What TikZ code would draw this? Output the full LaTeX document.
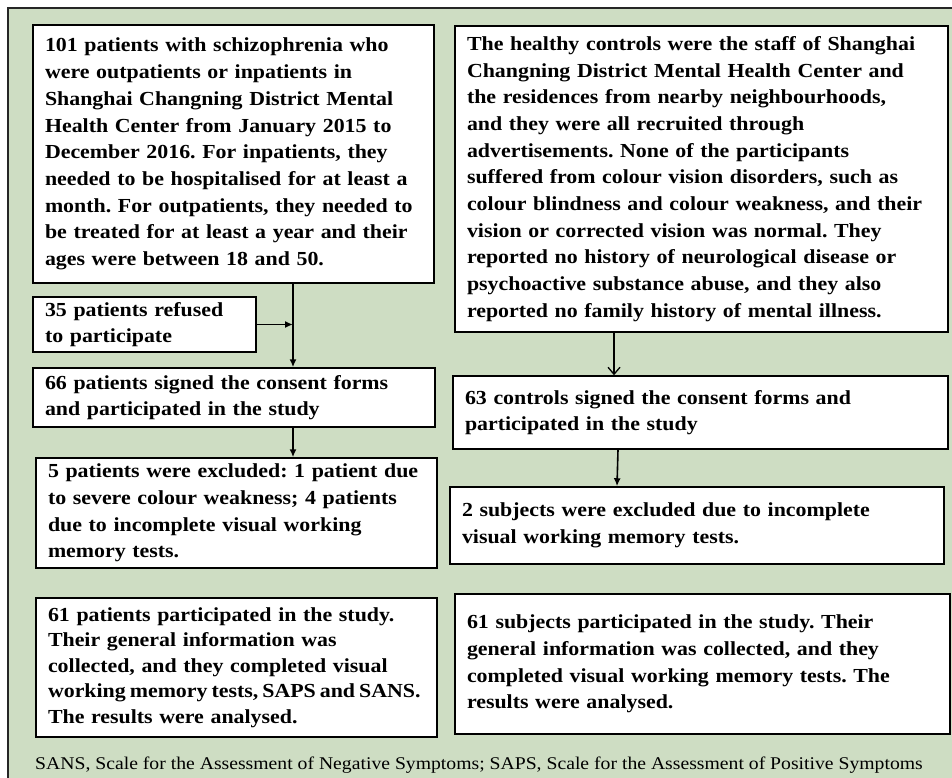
\documentclass[tikz,border=0pt]{standalone}
\usepackage{fontspec}
\setmainfont{Liberation Serif}[FakeStretch=1.1]
\usetikzlibrary{arrows.meta}
\definecolor{sage}{RGB}{206,221,195}
\frenchspacing
\tikzset{
  flowbox/.style={draw=black, line width=1.5pt, fill=white, align=left, inner xsep=12pt, inner ysep=0pt,
    font=\fontsize{19.9}{26.7}\selectfont\bfseries},
  arrfill/.style={line width=1.6pt, -{Latex[length=8pt,width=7pt]}},
  arropen/.style={line width=1.3pt, -{Straight Barb[length=7pt,width=12pt,line width=1.3pt]}},
}
\newcommand{\bx}[7]{% name, x1, y1, x2, y2, options, text
  \node[flowbox, text width={#4-#2-24pt}, minimum height={#5-#3}, #6] (#1) at ({(#2+#4)/2},{(#3+#5)/2}) {#7};}
\begin{document}
\begin{tikzpicture}[x=1pt,y=-1pt]
\useasboundingbox (0,0) rectangle (952,778);
\fill[sage] (8,8) rectangle (952,778);
\draw[line width=1.5pt, draw=black!85] (8,778) -- (8,8) -- (952,8);

\bx{a}{33}{25}{434}{283}{}{101 patients with schizophrenia who\\were outpatients or inpatients in\\Shanghai Changning District Mental\\Health Center from January 2015 to\\December 2016. For inpatients, they\\needed to be hospitalised for at least a\\month. For outpatients, they needed to\\be treated for at least a year and their\\ages were between 18 and 50.}
\bx{b}{455}{26}{948}{332}{}{The healthy controls were the staff of Shanghai\\Changning District Mental Health Center and\\the residences from nearby neighbourhoods,\\and they were all recruited through\\advertisements. None of the participants\\suffered from colour vision disorders, such as\\colour blindness and colour weakness, and their\\vision or corrected vision was normal. They\\reported no history of neurological disease or\\psychoactive substance abuse, and they also\\reported no family history of mental illness.}
\bx{r35}{33}{297}{256}{352}{}{35 patients refused\\to participate}
\bx{s66}{33}{368}{435}{427}{}{66 patients signed the consent forms\\and participated in the study}
\bx{e5}{36}{458}{437}{568}{}{5 patients were excluded: 1 patient due\\to severe colour weakness; 4 patients\\due to incomplete visual working\\memory tests.}
\bx{f61}{36}{598}{437}{737}{font=\fontsize{19.9}{25.5}\selectfont\bfseries}{61 patients participated in the study.\\Their general information was\\collected, and they completed visual\\{\spaceskip=0.2em\relax\mbox{working memory tests, SAPS and SANS.}}\\The results were analysed.}
\bx{c63}{453}{376}{948}{449}{}{63 controls signed the consent forms and\\participated in the study}
\bx{x2}{450}{487}{944}{564}{}{2 subjects were excluded due to incomplete\\visual working memory tests.}
\bx{g61}{455}{594}{950}{734}{}{61 subjects participated in the study. Their\\general information was collected, and they\\completed visual working memory tests. The\\results were analysed.}

\node[anchor=west, inner sep=0pt, font=\fontsize{17.9}{20}\selectfont] (foot) at (35,765) {SANS, Scale for the Assessment of Negative Symptoms; SAPS, Scale for the Assessment of Positive Symptoms};

\coordinate (ml) at (293,0);
\coordinate (mr) at (614,0);
\coordinate (mr2) at (618,0);
\coordinate (mr3) at (617,0);
\draw[arrfill] (a.south -| ml) -- (s66.north -| ml);
\draw[arrfill] (r35.east) -- (r35.east -| ml);
\draw[arrfill] (s66.south -| ml) -- (e5.north -| ml);
\draw[arropen] (b.south -| mr) -- (c63.north -| mr);
\draw[arrfill] (c63.south -| mr2) -- (x2.north -| mr3);
\end{tikzpicture}
\end{document}
